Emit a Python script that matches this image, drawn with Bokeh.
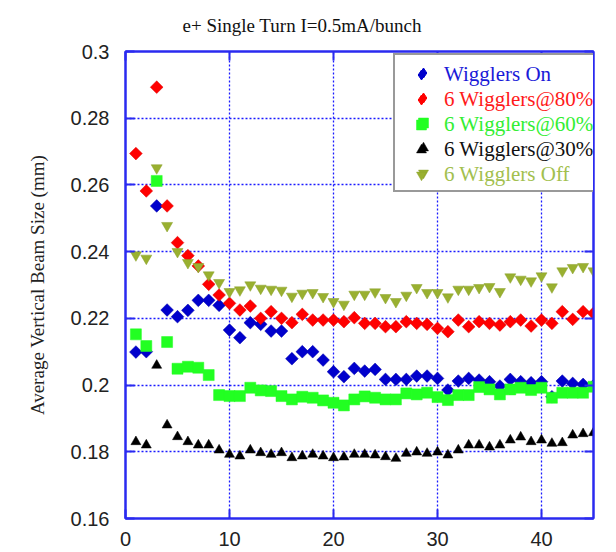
import math
from bokeh.plotting import figure
from bokeh.models import (Range1d, LinearAxis, Legend, LegendItem,
                          SingleIntervalTicker, CustomJSTickFormatter, Title)
from bokeh.embed import file_html
from bokeh.resources import INLINE

turns = list(range(1, 46))

wigglers_on = [0.2099, 0.2100, 0.2537, 0.2225, 0.2205, 0.2224, 0.2254, 0.2254, 0.2239, 0.2165,
               0.2142, 0.2187, 0.2182, 0.2162, 0.2162, 0.2079, 0.2100, 0.2100, 0.2075, 0.2040,
               0.2025, 0.2050, 0.2042, 0.2047, 0.2017, 0.2017, 0.2017, 0.2027, 0.2027, 0.2020,
               0.1985, 0.2012, 0.2020, 0.2015, 0.2010, 0.1997, 0.2017, 0.2010, 0.2007, 0.2010,
               0.1965, 0.2012, 0.2005, 0.2002, 0.1998]
w80 = [0.2694, 0.2582, 0.2893, 0.2537, 0.2427, 0.2388, 0.2357, 0.2302, 0.2270, 0.2245,
       0.2225, 0.2237, 0.2200, 0.2220, 0.2200, 0.2187, 0.2212, 0.2195, 0.2195, 0.2195,
       0.2190, 0.2202, 0.2185, 0.2185, 0.2175, 0.2175, 0.2190, 0.2185, 0.2182, 0.2170,
       0.2160, 0.2195, 0.2175, 0.2190, 0.2185, 0.2180, 0.2190, 0.2195, 0.2177, 0.2195,
       0.2185, 0.2220, 0.2197, 0.2220, 0.2215]
w60 = [0.2152, 0.2117, 0.2612, 0.2129, 0.2049, 0.2055, 0.2052, 0.2030, 0.1970, 0.1967,
       0.1967, 0.1992, 0.1984, 0.1982, 0.1967, 0.1957, 0.1965, 0.1962, 0.1954, 0.1947,
       0.1939, 0.1957, 0.1966, 0.1962, 0.1957, 0.1957, 0.1975, 0.1972, 0.1977, 0.1964,
       0.1955, 0.1970, 0.1970, 0.1994, 0.1987, 0.1972, 0.1987, 0.1992, 0.1985, 0.1992,
       0.1962, 0.1977, 0.1977, 0.1977, 0.1995]
w30 = [0.1830, 0.1820, 0.2059, 0.1880, 0.1845, 0.1830, 0.1820, 0.1820, 0.1805, 0.1792,
       0.1787, 0.1805, 0.1797, 0.1792, 0.1797, 0.1782, 0.1787, 0.1792, 0.1787, 0.1782,
       0.1784, 0.1792, 0.1792, 0.1790, 0.1785, 0.1780, 0.1795, 0.1799, 0.1795, 0.1799,
       0.1790, 0.1805, 0.1820, 0.1820, 0.1814, 0.1820, 0.1835, 0.1844, 0.1830, 0.1835,
       0.1825, 0.1827, 0.1850, 0.1854, 0.1857]
w_off = [0.2390, 0.2380, 0.2651, 0.2478, 0.2400, 0.2367, 0.2355, 0.2330, 0.2307, 0.2280,
         0.2285, 0.2300, 0.2290, 0.2287, 0.2284, 0.2266, 0.2275, 0.2277, 0.2265, 0.2250,
         0.2242, 0.2272, 0.2272, 0.2279, 0.2262, 0.2250, 0.2269, 0.2292, 0.2277, 0.2277,
         0.2264, 0.2287, 0.2287, 0.2292, 0.2295, 0.2280, 0.2324, 0.2317, 0.2312, 0.2327,
         0.2294, 0.2342, 0.2352, 0.2355, 0.2342]

series_names = ["Wigglers On", "6 Wigglers@80%", "6 Wigglers@60%", "6 Wigglers@30%", "6 Wigglers Off"]
title_text = "e+ Single Turn I=0.5mA/bunch"
y_label = "Average Vertical Beam Size (mm)"

SERIF = "Liberation Serif"
SANS = "Liberation Sans"
AXIS_BLUE = "#2a2af0"
GRID_BLUE = "#1a1aff"

p = figure(width=616, height=552, output_backend="svg", toolbar_location=None,
           x_range=Range1d(0, 45), y_range=Range1d(0.16, 0.3),
           min_border_left=125, min_border_right=23, min_border_top=50, min_border_bottom=34)
p.background_fill_color = "white"
p.border_fill_color = "white"
p.outline_line_color = AXIS_BLUE
p.outline_line_width = 2

p.title = Title(text=title_text, text_font=SERIF, text_font_size="19px",
                text_font_style="normal", text_color="#111111", align="left", offset=57,
                standoff=24)

for ax in (p.xaxis[0], p.yaxis[0]):
    ax.axis_line_color = AXIS_BLUE
    ax.axis_line_width = 2
    ax.major_tick_line_color = AXIS_BLUE
    ax.major_tick_line_width = 2
    ax.major_tick_in = 9
    ax.major_tick_out = 0
    ax.minor_tick_line_color = None
    ax.major_label_text_font = SANS
    ax.major_label_text_font_size = "20px"
    ax.major_label_text_color = "#222222"

p.xaxis[0].ticker = SingleIntervalTicker(interval=10)
p.yaxis[0].ticker = SingleIntervalTicker(interval=0.02)
p.xaxis[0].major_label_standoff = 9
p.yaxis[0].major_label_standoff = 12
p.yaxis[0].axis_label = y_label
p.yaxis[0].axis_label_text_font = SERIF
p.yaxis[0].axis_label_text_font_size = "19px"
p.yaxis[0].axis_label_text_font_style = "normal"
p.yaxis[0].axis_label_text_color = "#222222"
p.yaxis[0].axis_label_standoff = 20

rax = LinearAxis(ticker=SingleIntervalTicker(interval=0.02), formatter=CustomJSTickFormatter(code="return ''"))
tax = LinearAxis(ticker=SingleIntervalTicker(interval=10), formatter=CustomJSTickFormatter(code="return ''"))
for ax in (rax, tax):
    ax.axis_line_color = AXIS_BLUE
    ax.axis_line_width = 2
    ax.major_tick_line_color = AXIS_BLUE
    ax.major_tick_line_width = 2
    ax.major_tick_in = 9
    ax.major_tick_out = 0
    ax.minor_tick_line_color = None
    ax.major_label_standoff = 0
    ax.major_label_text_font_size = "1px"
p.add_layout(rax, "right")
p.add_layout(tax, "above")

for g in (p.xgrid[0], p.ygrid[0]):
    g.grid_line_color = GRID_BLUE
    g.grid_line_dash = "2 2"
    g.grid_line_width = 1.3

BLUE, RED, GREEN, BLACK, OLIVE = "#0000cc", "#ff0000", "#22ff22", "#000000", "#99b030"

r_on = p.scatter(turns, wigglers_on, marker="square", angle=math.pi / 4, size=9,
                 fill_color=BLUE, line_color="#0000aa", line_width=0.5)
r_80 = p.scatter(turns, w80, marker="square", angle=math.pi / 4, size=9,
                 fill_color=RED, line_color="#dd0000", line_width=0.5)
r_60 = p.scatter(turns, w60, marker="square", size=11,
                 fill_color=GREEN, line_color=GREEN, line_width=0.5)
r_30 = p.scatter(turns, w30, marker="triangle", size=10,
                 fill_color=BLACK, line_color=BLACK, line_width=0.5)
r_off = p.scatter(turns, w_off, marker="inverted_triangle", size=11,
                  fill_color=OLIVE, line_color="#8aa02a", line_width=0.5)

# legend swatches: diamonds (legend glyphs ignore marker angle)
nan = [float("nan")]
k_on = p.scatter(nan, nan, marker="diamond", fill_color=BLUE, line_color=BLUE)
k_80 = p.scatter(nan, nan, marker="diamond", fill_color=RED, line_color=RED)
legend_renderers = [k_on, k_80, r_60, r_30, r_off]

LEG_LEFT = 268        # px from frame left
LEG_TOP = 56          # canvas px
FRAME_BOTTOM = 517.5
ROW_H = 25
PAD = 5
GW = 46
n = len(series_names)

# box with the glyphs
box = Legend(items=[LegendItem(label=" ", renderers=[r]) for r in legend_renderers],
             location=(LEG_LEFT, FRAME_BOTTOM - (LEG_TOP + 2 * PAD + n * ROW_H)),
             orientation="vertical",
             border_line_color="#333333", border_line_width=2,
             background_fill_color="white", background_fill_alpha=1.0,
             padding=PAD, spacing=0, margin=0,
             glyph_width=GW, glyph_height=ROW_H, label_height=ROW_H, label_width=200,
             label_standoff=0, label_text_font_size="2px")
p.add_layout(box, "center")

# coloured labels, one legend per series
text_colors = ["#1a1ad8", "#ff1a1a", "#33ee33", "#111111", "#a2c04e"]
for i, (name, col, r) in enumerate(zip(series_names, text_colors, legend_renderers)):
    top = LEG_TOP + PAD + i * ROW_H
    leg = Legend(items=[LegendItem(label=name, renderers=[r])],
                 location=(LEG_LEFT, FRAME_BOTTOM - (top + ROW_H + PAD)),
                 border_line_alpha=0, background_fill_alpha=0,
                 padding=PAD, spacing=0, margin=0,
                 glyph_width=GW, glyph_height=ROW_H, label_height=ROW_H,
                 label_standoff=0, label_text_font=SERIF, label_text_font_size="21px",
                 label_text_color=col, label_text_baseline="middle")
    p.add_layout(leg, "center")

open("out.html", "w").write(file_html(p, INLINE))
